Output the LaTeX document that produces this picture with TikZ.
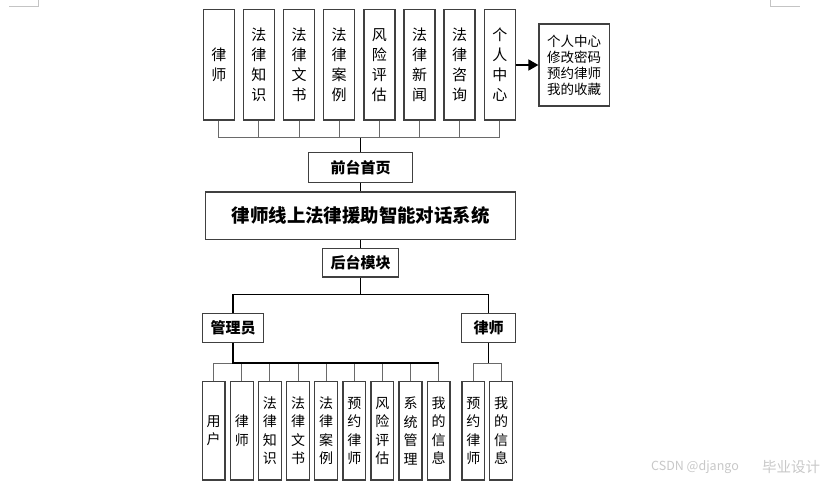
\documentclass[tikz,border=0pt]{standalone}
\usepackage{fontspec}
\setmainfont{Noto Sans CJK SC}
\usetikzlibrary{arrows.meta}
\definecolor{boxline}{HTML}{404040}
\definecolor{connline}{HTML}{6A6A6A}
\definecolor{marks}{HTML}{C4C4C4}
\definecolor{wm}{HTML}{C8C8C8}
\tikzset{
  box/.style={draw=boxline, line width=1.3pt, fill=white, inner sep=0pt, align=center},
  topbox/.style={box, minimum width=31pt, minimum height=110.5pt, font=\fontsize{15}{20}\selectfont},
  botbox/.style={box, minimum width=22.8pt, minimum height=98.3pt, font=\fontsize{14}{18.5}\selectfont},
  titlebox/.style={box, font=\fontsize{15}{18}\selectfont\bfseries},
  conn/.style={draw=connline, line width=1pt},
  stem/.style={draw=black, line width=1.3pt},
  thick stem/.style={draw=black, line width=2.2pt}
}
\begin{document}
\begin{tikzpicture}[x=1pt,y=-1pt]
\useasboundingbox (0,0) rectangle (837,485);
% crop marks
\draw[marks, line width=1pt] (9,6.5) -- (38,6.5) -- (38,0);
\draw[marks, line width=1pt] (770,0) -- (770,6.5) -- (800,6.5);

% top boxes
\foreach \i/\t in {0/律\\师, 1/法\\律\\知\\识, 2/法\\律\\文\\书, 3/法\\律\\案\\例, 4/风\\险\\评\\估, 5/法\\律\\新\\闻, 6/法\\律\\咨\\询, 7/个\\人\\中\\心}{
  \node[topbox] (t\i) at ({218.8+40.14*\i},64.75) {\t};
}
\node[box, minimum width=70.3pt, minimum height=82pt, font=\fontsize{13.5}{16}\selectfont] (pc) at (574.2,65) {个人中心\\修改密码\\预约律师\\我的收藏};
\draw[line width=1.5pt, -{Triangle[length=10pt,width=11pt]}] (t7.east |- pc.west) -- (pc.west);

\coordinate (busT) at (360.7,137.7);
\foreach \i in {0,...,7}{
  \draw[conn] (t\i.south) -- (t\i.south |- busT);
}
\draw[conn] (t0.south |- busT) -- (t7.south |- busT);

\node[titlebox, minimum width=104.4pt, minimum height=30pt] (home) at (360.5,167.3) {前台首页};
\draw[stem] (busT) -- (busT |- home.north);

\node[box, minimum width=310pt, minimum height=47.3pt, font=\fontsize{18.4}{22}\selectfont\bfseries] (main) at (360.7,215.7) {律师线上法律援助智能对话系统};
\draw[stem] (home.south -| busT) -- (busT |- main.north);

\node[titlebox, minimum width=76.4pt, minimum height=28.3pt] (back) at (360.5,262.8) {后台模块};
\draw[stem] (main.south -| busT) -- (busT |- back.north);

\node[titlebox, minimum width=61.4pt, minimum height=29pt] (admin) at (233,327.8) {管理员};
\node[titlebox, minimum width=54.4pt, minimum height=29pt] (lawyer) at (488.5,327.8) {律师};
\coordinate (busB) at (360.7,294.3);
\draw[stem] (back.south -| busT) -- (busB);
\draw[stem] (admin.north) -- (admin.north |- busB) -- (lawyer.north |- busB) -- (lawyer.north);

% bottom boxes
\foreach \i/\t in {0/用\\户, 1/律\\师, 2/法\\律\\知\\识, 3/法\\律\\文\\书, 4/法\\律\\案\\例, 5/预\\约\\律\\师, 6/风\\险\\评\\估, 7/系\\统\\管\\理, 8/我\\的\\信\\息}{
  \node[botbox] (b\i) at ({213.7+28.12*\i},430.8) {\t};
}
\node[botbox] (l0) at (473.3,430.8) {预\\约\\律\\师};
\node[botbox] (l1) at (501,430.8) {我\\的\\信\\息};

\coordinate (busA) at (233,363.3);
\foreach \i in {0,...,8}{
  \draw[conn] (b\i.north) -- (b\i.north |- busA);
}
\draw[conn] (b0.north |- busA) -- (busA);
\draw[thick stem] (admin.south) -- (busA) -- (b8.north |- busA);

\coordinate (busL) at (488.5,363.3);
\draw[conn] (l0.north) -- (l0.north |- busL) -- (l1.north |- busL) -- (l1.north);
\draw[stem] (lawyer.south) -- (busL);

% watermark
\node[text=wm, font=\fontsize{12.5}{14}\selectfont, anchor=west, inner sep=0pt] (wm1) at (651,467) {CSDN @django};
\node[text=wm, font=\fontsize{14.5}{16}\selectfont, anchor=west, inner sep=0pt] (wm2) at (762,467) {毕业设计};
\end{tikzpicture}
\end{document}
